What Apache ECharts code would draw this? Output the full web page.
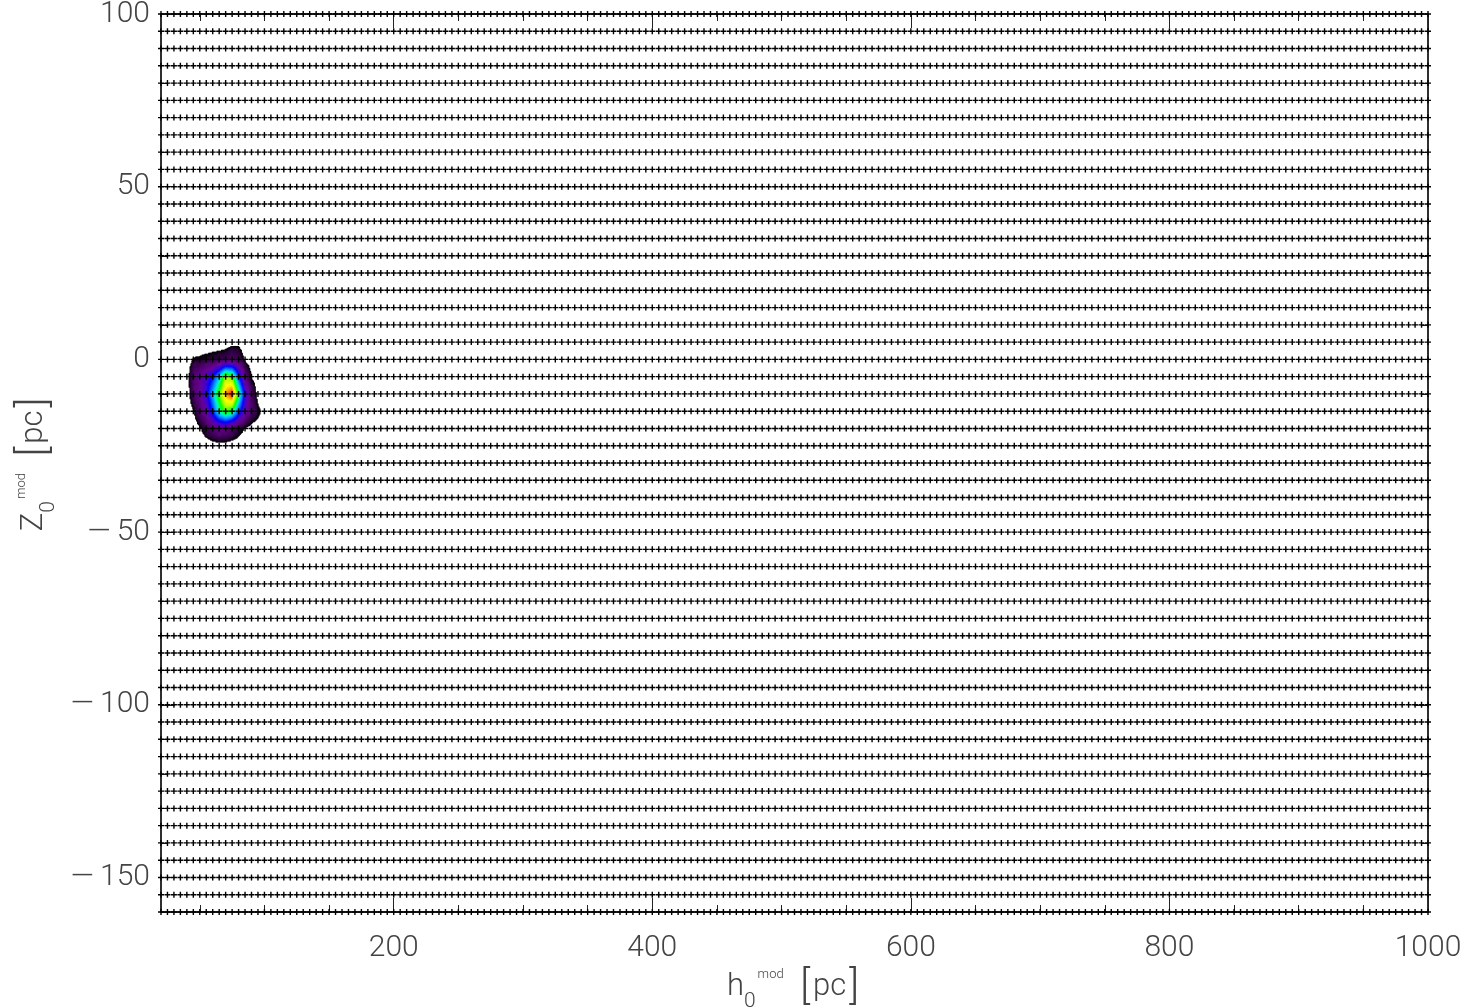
<!DOCTYPE html>
<html>
<head>
<meta charset="utf-8">
<title>h0 / Z0 model grid</title>
<script src="https://cdn.jsdelivr.net/npm/echarts@6/dist/echarts.min.js"></script>
<style>
  html, body { margin: 0; padding: 0; background: #ffffff; }
  #chart { width: 1472px; height: 1008px; }
</style>
</head>
<body>
<div id="chart"></div>
<script>
// Model grid: scale height h0 (pc) and solar offset Z0 (pc)
const H0_GRID = [
  20, 25, 30, 35, 40, 45, 50, 55, 60, 65, 70, 75, 80, 85, 90, 95,
  100, 105, 110, 115, 120, 125, 130, 135, 140, 145, 150, 155, 160, 165, 170, 175, 180, 185, 190, 195,
  200, 205, 210, 215, 220, 225, 230, 235, 240, 245, 250, 255, 260, 265, 270, 275, 280, 285, 290, 295,
  300, 305, 310, 315, 320, 325, 330, 335, 340, 345, 350, 355, 360, 365, 370, 375, 380, 385, 390, 395,
  400, 405, 410, 415, 420, 425, 430, 435, 440, 445, 450, 455, 460, 465, 470, 475, 480, 485, 490, 495,
  500, 505, 510, 515, 520, 525, 530, 535, 540, 545, 550, 555, 560, 565, 570, 575, 580, 585, 590, 595,
  600, 605, 610, 615, 620, 625, 630, 635, 640, 645, 650, 655, 660, 665, 670, 675, 680, 685, 690, 695,
  700, 705, 710, 715, 720, 725, 730, 735, 740, 745, 750, 755, 760, 765, 770, 775, 780, 785, 790, 795,
  800, 805, 810, 815, 820, 825, 830, 835, 840, 845, 850, 855, 860, 865, 870, 875, 880, 885, 890, 895,
  900, 905, 910, 915, 920, 925, 930, 935, 940, 945, 950, 955, 960, 965, 970, 975, 980, 985, 990, 995,
  1000
];
const Z0_GRID = [
  -160, -155, -150, -145, -140, -135, -130, -125, -120, -115, -110, -105,
  -100, -95, -90, -85, -80, -75, -70, -65, -60, -55, -50, -45, -40, -35,
  -30, -25, -20, -15, -10, -5, 0, 5, 10, 15, 20, 25, 30, 35, 40, 45,
  50, 55, 60, 65, 70, 75, 80, 85, 90, 95, 100
];

// Axis ticks and labels
const X_MAJOR = [200, 400, 600, 800, 1000];
const X_MINOR = [50, 100, 150, 250, 300, 350, 450, 500, 550, 650, 700, 750, 850, 900, 950];
const Y_MAJOR = [-150, -100, -50, 0, 50, 100];
const Y_MINOR = [-160, -140, -130, -120, -110, -90, -80, -70, -60, -40, -30, -20, -10,
                 10, 20, 30, 40, 60, 70, 80, 90];

// Normalised likelihood on the grid nodes around the peak
const BLOB_H0 = [40, 45, 50, 55, 60, 65, 70, 75, 80, 85, 90, 95, 100];
const BLOB_Z0 = [5, 0, -5, -10, -15, -20, -25];
const BLOB_L = [
  [0.00, 0.00, 0.00, 0.00, 0.00, 0.00, 0.00, 0.02, 0.02, 0.00, 0.00, 0.00, 0.00], // Z0 = 5
  [0.00, 0.045, 0.05, 0.06, 0.07, 0.08, 0.10, 0.12, 0.10, 0.02, 0.00, 0.00, 0.00], // Z0 = 0
  [0.00, 0.13, 0.20, 0.27, 0.36, 0.52, 0.76, 0.70, 0.40, 0.16, 0.03, 0.00, 0.00], // Z0 = -5
  [0.00, 0.10, 0.19, 0.32, 0.50, 0.70, 0.90, 1.00, 0.66, 0.32, 0.12, 0.00, 0.00], // Z0 = -10
  [0.00, 0.03, 0.12, 0.22, 0.38, 0.58, 0.70, 0.64, 0.42, 0.24, 0.12, 0.06, 0.00], // Z0 = -15
  [0.00, 0.00, 0.03, 0.08, 0.14, 0.18, 0.17, 0.12, 0.07, 0.03, 0.00, 0.00, 0.00], // Z0 = -20
  [0.00, 0.00, 0.00, 0.00, 0.00, 0.00, 0.00, 0.00, 0.00, 0.00, 0.00, 0.00, 0.00]  // Z0 = -25
];
const BLOB_FLOOR = 0.04;

// Rainbow colour table (black rim -> purple -> blue -> green -> yellow -> red)
const RAMP = [
  [0.040, [0, 0, 0]],
  [0.060, [40, 0, 56]],
  [0.120, [76, 0, 106]],
  [0.200, [104, 0, 150]],
  [0.280, [70, 0, 200]],
  [0.360, [0, 0, 255]],
  [0.440, [0, 110, 255]],
  [0.520, [0, 200, 255]],
  [0.580, [0, 255, 160]],
  [0.660, [0, 255, 0]],
  [0.760, [180, 255, 0]],
  [0.840, [255, 255, 0]],
  [0.920, [255, 130, 0]],
  [1.000, [255, 0, 0]]
];

function rampColor(v) {
  if (v <= RAMP[0][0]) return 'rgb(0,0,0)';
  for (let k = 1; k < RAMP.length; k++) {
    if (v <= RAMP[k][0]) {
      const a = RAMP[k - 1], b = RAMP[k];
      const t = (v - a[0]) / (b[0] - a[0]);
      const c = a[1].map((q, i) => Math.round(q + (b[1][i] - q) * t));
      return 'rgb(' + c.join(',') + ')';
    }
  }
  return 'rgb(255,0,0)';
}

// Scatter table of all grid nodes
const gridPoints = [];
for (const z of Z0_GRID) {
  for (const h of H0_GRID) gridPoints.push([h, z]);
}

// One entry per cell of the likelihood patch
const blobCells = [];
for (let i = 0; i < BLOB_Z0.length - 1; i++) {
  for (let j = 0; j < BLOB_H0.length - 1; j++) blobCells.push([i, j]);
}

function renderCell(params, api) {
  const i = api.value(0), j = api.value(1);
  const p0 = api.coord([BLOB_H0[j], BLOB_Z0[i]]);
  const p1 = api.coord([BLOB_H0[j + 1], BLOB_Z0[i + 1]]);
  const v00 = BLOB_L[i][j], v01 = BLOB_L[i][j + 1];
  const v10 = BLOB_L[i + 1][j], v11 = BLOB_L[i + 1][j + 1];
  const w = p1[0] - p0[0], h = p1[1] - p0[1];
  const nx = Math.max(1, Math.ceil(Math.abs(w))), ny = Math.max(1, Math.ceil(Math.abs(h)));
  const sx = w / nx, sy = h / ny;
  const children = [];
  for (let a = 0; a < nx; a++) {
    const u = (a + 0.5) / nx;
    for (let b = 0; b < ny; b++) {
      const s = (b + 0.5) / ny;
      const v = (1 - s) * ((1 - u) * v00 + u * v01) + s * ((1 - u) * v10 + u * v11);
      if (v < BLOB_FLOOR) continue;
      children.push({
        type: 'rect',
        shape: { x: p0[0] + a * sx, y: p0[1] + b * sy, width: sx + 0.6, height: sy + 0.6 },
        style: { fill: rampColor(v) }
      });
    }
  }
  return { type: 'group', children: children };
}

const FONT = 'Roboto, "DejaVu Sans", sans-serif';
const LABEL_COLOR = '#444';
const AXIS_COLOR = '#222';

const nameRich = {
  m:   { fontFamily: FONT, fontWeight: 300, fontSize: 31, color: LABEL_COLOR, verticalAlign: 'bottom', padding: [0, 0, 9, 0] },
  sub: { fontFamily: FONT, fontWeight: 300, fontSize: 21, color: LABEL_COLOR, verticalAlign: 'bottom' },
  sup: { fontFamily: FONT, fontWeight: 300, fontSize: 13, color: LABEL_COLOR, verticalAlign: 'top', padding: [0, 6, 0, 2] },
  br:  { fontFamily: FONT, fontWeight: 300, fontSize: 41, color: LABEL_COLOR, verticalAlign: 'bottom', padding: [0, 3, 3, 3] }
};

function makeAxis(dim, pos, values, len, withLabels, extra) {
  const ax = Object.assign({
    type: 'value',
    position: pos,
    min: dim === 'x' ? 20 : -160,
    max: dim === 'x' ? 1000 : 100,
    axisLine: { show: true, onZero: false, lineStyle: { color: AXIS_COLOR, width: 1.5 } },
    axisTick: { show: true, inside: true, length: len, customValues: values,
                lineStyle: { color: AXIS_COLOR, width: 1 } },
    axisLabel: withLabels ? {
      show: true, customValues: values, margin: dim === 'x' ? 21 : 11,
      padding: dim === 'x' ? 0 : [12, 0, 0, 0],
      fontFamily: FONT, fontWeight: 300, fontSize: 30, color: LABEL_COLOR,
      formatter: v => (v < 0 ? '\u2014\u2009' + Math.abs(v) : String(v))
    } : { show: false },
    splitLine: { show: false },
    minorTick: { show: false }
  }, extra || {});
  return ax;
}

const chart = echarts.init(document.getElementById('chart'), null, { renderer: 'canvas' });
chart.setOption({
  animation: false,
  backgroundColor: '#ffffff',
  grid: { left: 161, top: 14, width: 1267, height: 898, containLabel: false, outerBoundsMode: 'none' },
  xAxis: [
    makeAxis('x', 'bottom', X_MAJOR, 14, true, {
      name: '{m|h}{sub|0}{sup|mod}{m| }{br|[}{m|pc}{br|]}',
      nameLocation: 'middle', nameGap: 56,
      nameTextStyle: { rich: nameRich }
    }),
    makeAxis('x', 'bottom', X_MINOR, 7, false),
    makeAxis('x', 'top', X_MAJOR, 14, false),
    makeAxis('x', 'top', X_MINOR, 7, false)
  ],
  yAxis: [
    makeAxis('y', 'left', Y_MAJOR, 14, true, {
      name: '{m|Z}{sub|0}{sup|mod}{m| }{br|[}{m|pc}{br|]}',
      nameLocation: 'middle', nameGap: 102, nameRotate: 90,
      nameTextStyle: { rich: nameRich }
    }),
    makeAxis('y', 'left', Y_MINOR, 7, false),
    makeAxis('y', 'right', Y_MAJOR, 14, false),
    makeAxis('y', 'right', Y_MINOR, 7, false)
  ],
  series: [
    {
      type: 'custom',
      name: 'likelihood',
      xAxisIndex: 0, yAxisIndex: 0,
      renderItem: renderCell,
      data: blobCells,
      clip: true,
      silent: true,
      z: 1
    },
    {
      type: 'scatter',
      name: 'models',
      xAxisIndex: 0, yAxisIndex: 0,
      data: gridPoints,
      symbol: 'path://M2.3,0H3.7V2.3H6V3.7H3.7V6H2.3V3.7H0V2.3H2.3Z',
      symbolSize: 6,
      itemStyle: { color: '#000000', opacity: 1 },
      large: false,
      progressive: 0,
      silent: true,
      z: 3
    }
  ]
});
</script>
</body>
</html>
